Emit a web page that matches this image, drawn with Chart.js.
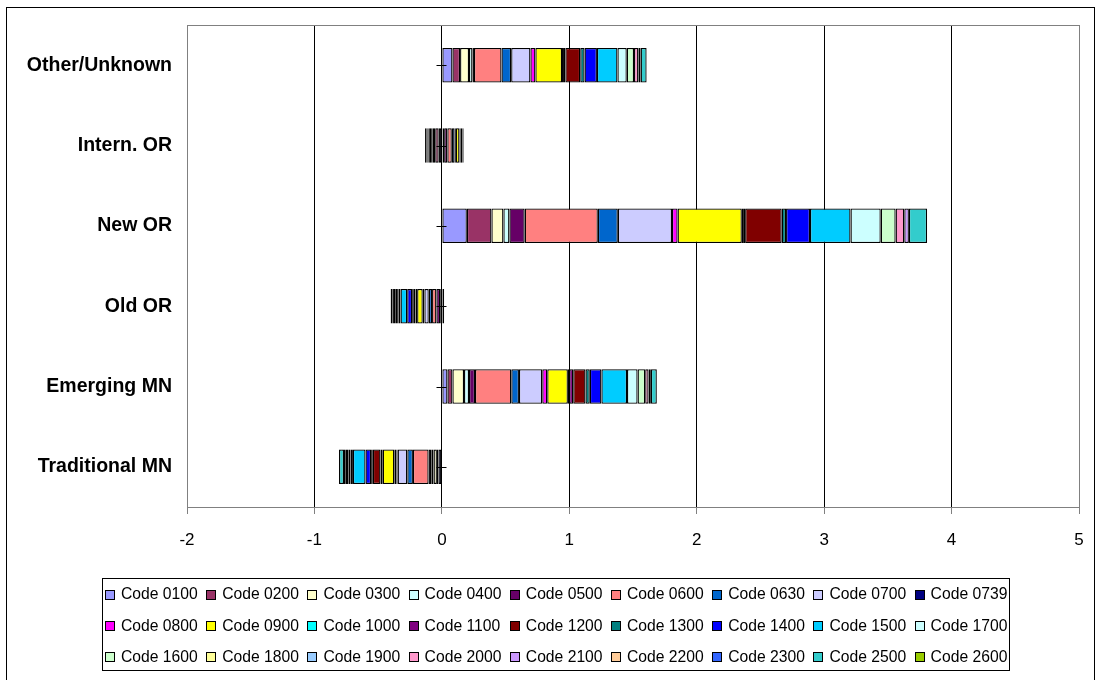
<!DOCTYPE html>
<html>
<head>
<meta charset="utf-8">
<script src="https://cdn.jsdelivr.net/npm/chart.js@4.4.0/dist/chart.umd.min.js"></script>
<style>
  html, body { margin: 0; padding: 0; background: #fff; }
</style>
</head>
<body>
<canvas id="canvas" width="1097" height="680"></canvas>
<script>
// categories, top to bottom
const categories = ['Other/Unknown', 'Intern. OR', 'New OR', 'Old OR', 'Emerging MN', 'Traditional MN'];
const xTicks = [-2, -1, 0, 1, 2, 3, 4, 5];

const codes = ['Code 0100', 'Code 0200', 'Code 0300', 'Code 0400', 'Code 0500', 'Code 0600', 'Code 0630', 'Code 0700', 'Code 0739',
  'Code 0800', 'Code 0900', 'Code 1000', 'Code 1100', 'Code 1200', 'Code 1300', 'Code 1400', 'Code 1500', 'Code 1700',
  'Code 1600', 'Code 1800', 'Code 1900', 'Code 2000', 'Code 2100', 'Code 2200', 'Code 2300', 'Code 2500', 'Code 2600'];

const colors = ['#9999FF', '#993366', '#FFFFCC', '#CCFFFF', '#660066', '#FF8080', '#0066CC', '#CCCCFF', '#000080',
  '#FF00FF', '#FFFF00', '#00FFFF', '#800080', '#800000', '#008080', '#0000FF', '#00CCFF', '#CCFFFF',
  '#CCFFCC', '#FFFF99', '#99CCFF', '#FF99CC', '#CC99FF', '#FFCC99', '#3366FF', '#33CCCC', '#99CC00'];

// values per code, in category order
const v0100 = [0.083, -0.025, 0.196, null, 0.044, -0.026];
const v0200 = [0.060, -0.027, 0.193, null, 0.039, -0.013];
const v0300 = [0.070, 0.008, 0.094, -0.013, 0.091, -0.026];
const v0400 = [0.027, 0.010, 0.047, 0.018, 0.039, -0.018];
const v0500 = [0.012, 0.025, 0.120, -0.030, 0.047, -0.021];
const v0600 = [0.216, 0.035, 0.574, -0.034, 0.285, -0.123];
const v0630 = [0.076, 0.022, 0.157, -0.026, 0.060, -0.044];
const v0700 = [0.151, null, 0.425, -0.034, 0.183, -0.076];
const v0739 = [null, -0.020, null, null, null, -0.010];
const v0800 = [0.039, 0.010, 0.044, -0.013, 0.039, -0.016];
const v0900 = [0.209, 0.028, 0.504, -0.044, 0.162, -0.091];
const v1000 = [0.008, null, 0.010, null, 0.010, null];
const v1100 = [0.018, 0.010, 0.016, -0.013, 0.032, -0.018];
const v1200 = [0.117, 0.015, 0.287, -0.018, 0.096, -0.060];
const v1300 = [0.034, 0.008, 0.034, -0.008, 0.034, -0.013];
const v1400 = [0.097, -0.012, 0.188, -0.039, 0.091, -0.044];
const v1500 = [0.161, -0.010, 0.318, -0.052, 0.201, -0.099];
const v1700 = [0.073, -0.012, 0.237, -0.015, 0.083, -0.018];
const v1600 = [0.057, -0.008, 0.117, -0.012, 0.060, -0.018];
const v1800 = [null, null, null, null, null, null];
const v1900 = [null, null, null, null, null, null];
const v2000 = [0.034, -0.008, 0.068, -0.015, 0.026, -0.020];
const v2100 = [0.018, null, 0.036, -0.010, 0.018, -0.014];
const v2200 = [null, null, null, null, null, null];
const v2300 = [null, null, null, -0.010, null, null];
const v2500 = [0.047, -0.010, 0.143, -0.016, 0.047, -0.039];
const v2600 = [null, null, null, null, null, null];

const series = [v0100, v0200, v0300, v0400, v0500, v0600, v0630, v0700, v0739,
  v0800, v0900, v1000, v1100, v1200, v1300, v1400, v1500, v1700,
  v1600, v1800, v1900, v2000, v2100, v2200, v2300, v2500, v2600];

const FONT = "'Liberation Sans', Arial, sans-serif";

let datasets = [];
for (let i = 0; i < codes.length; i++) {
  datasets.push({
    label: codes[i],
    data: series[i],
    backgroundColor: colors[i],
    borderColor: '#000',
    borderWidth: 1.3,
    borderSkipped: false,
    barPercentage: 0.43,
    categoryPercentage: 1
  });
}

// frame, zero axis, plot border and the boxed legend
const decor = {
  id: 'decor',
  beforeDraw(chart) {
    const ctx = chart.ctx;
    ctx.save();
    ctx.fillStyle = '#fff';
    ctx.fillRect(0, 0, chart.width, chart.height);
    ctx.restore();
  },
  afterDatasetsDraw(chart) {
    const ctx = chart.ctx;
    const a = chart.chartArea;
    const x = chart.scales.x, y = chart.scales.y;
    const x0 = Math.round(x.getPixelForValue(0) - 0.5) + 0.5;
    ctx.save();
    ctx.strokeStyle = '#000';
    ctx.lineWidth = 1;
    ctx.beginPath();
    ctx.moveTo(x0, a.top);
    ctx.lineTo(x0, a.bottom);
    for (let i = 0; i < categories.length; i++) {
      const yy = Math.round(y.getPixelForValue(i)) + 0.5;
      ctx.moveTo(x0 - 5, yy);
      ctx.lineTo(x0 + 5, yy);
    }
    ctx.stroke();
    ctx.strokeStyle = '#808080';
    ctx.strokeRect(Math.round(a.left) + 0.5, Math.round(a.top) + 0.5, Math.round(a.right - a.left), Math.round(a.bottom - a.top));
    ctx.restore();
  },
  afterDraw(chart) {
    const ctx = chart.ctx;
    ctx.save();
    ctx.strokeStyle = '#000';
    ctx.lineWidth = 1;
    ctx.strokeRect(6.5, 7.5, 1088, 700);
    // legend
    ctx.strokeRect(102.5, 578.5, 907, 92);
    ctx.font = '15.7px ' + FONT;
    ctx.textBaseline = 'middle';
    ctx.textAlign = 'left';
    for (let i = 0; i < codes.length; i++) {
      const col = i % 9, row = Math.floor(i / 9);
      const bx = 105 + col * 101.2;
      const cy = 594 + row * 31.3;
      ctx.fillStyle = colors[i];
      ctx.fillRect(Math.round(bx) + 0.5, Math.round(cy - 4.5) + 0.5, 9, 9);
      ctx.strokeStyle = '#000';
      ctx.strokeRect(Math.round(bx) + 0.5, Math.round(cy - 4.5) + 0.5, 9, 9);
      ctx.fillStyle = '#000';
      ctx.fillText(codes[i], bx + 16, cy + 1);
    }
    ctx.restore();
  }
};

let options = {
  type: 'bar',
  data: { labels: categories, datasets: datasets },
  options: {
    indexAxis: 'y',
    responsive: false,
    animation: false,
    layout: { padding: { top: 25, right: 18, left: 0, bottom: 0 } },
    plugins: { legend: { display: false }, tooltip: { enabled: false } },
    scales: {
      x: {
        stacked: true,
        min: xTicks[0],
        max: xTicks[xTicks.length - 1],
        afterFit: function(s) { s.height = 173; s.paddingRight = 0; s.paddingLeft = 0; },
        afterBuildTicks: function(s) { s.ticks = xTicks.map(v => ({ value: v })); },
        border: { display: false },
        grid: {
          color: c => (c.tick && (c.tick.value === xTicks[0] || c.tick.value === xTicks[xTicks.length - 1])) ? 'rgba(0,0,0,0)' : '#000',
          tickColor: '#808080',
          tickLength: 7
        },
        ticks: { color: '#000', padding: 16, font: { family: FONT, size: 17 } }
      },
      y: {
        stacked: true,
        afterFit: function(s) { s.width = 187; },
        border: { display: false },
        grid: { display: false },
        ticks: { color: '#000', padding: 7, font: { family: FONT, size: 19.5, weight: 'bold' } }
      }
    }
  },
  plugins: [decor]
};

let chart = new Chart(document.getElementById('canvas'), options);
</script>
</body>
</html>
